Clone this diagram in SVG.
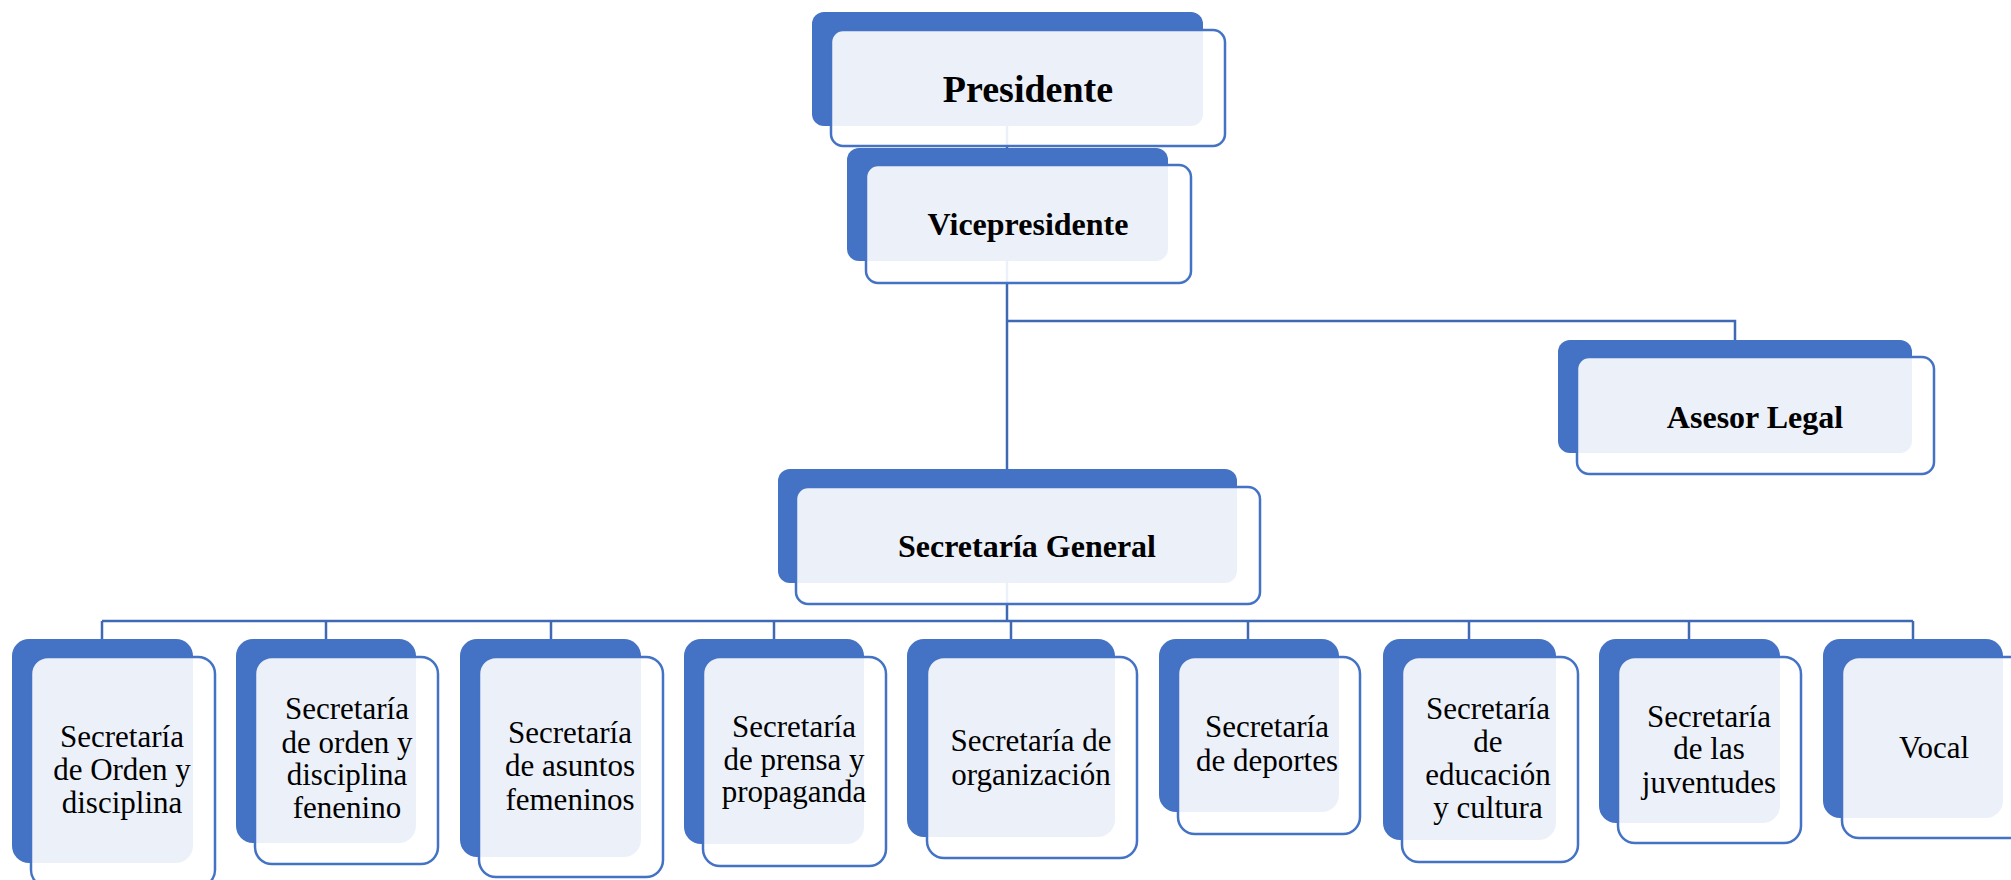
<svg xmlns="http://www.w3.org/2000/svg" width="2011" height="880" viewBox="0 0 2011 880">
<style>
.back{fill:#4472C4;}
.front{fill:#FFFFFF;fill-opacity:0.9;stroke:#4472C4;stroke-width:2.5;}
.conn{fill:none;stroke:#3F69B5;stroke-width:2.5;}
.tb{font-family:"Liberation Serif","Times New Roman",serif;font-weight:bold;fill:#000;text-anchor:middle;}
.tr{font-family:"Liberation Serif","Times New Roman",serif;font-size:31px;fill:#000;text-anchor:middle;}
</style>
<rect width="2011" height="880" fill="#FFFFFF"/>
<g id="connectors">
<path class="conn" d="M1007 126 V148"/>
<path class="conn" d="M1007 261 V469"/>
<path class="conn" d="M1007 321 H1735 V340"/>
<path class="conn" d="M1007 583 V621"/>
<path class="conn" d="M102 621 H1913"/>
<path class="conn" d="M102 621 V639 M326 621 V639 M551 621 V639 M774 621 V639 M1011 621 V639 M1248 621 V639 M1469 621 V639 M1689 621 V639 M1913 621 V639"/>
</g>
<g id="presidente">
<rect class="back" x="812" y="12" width="391" height="114" rx="12"/>
<rect class="front" x="831" y="30" width="394" height="116" rx="12"/>
<text class="tb" x="1028" y="102" font-size="38">Presidente</text>
</g>
<g id="vicepresidente">
<rect class="back" x="847" y="148" width="321" height="113" rx="12"/>
<rect class="front" x="866" y="165" width="325" height="118" rx="12"/>
<text class="tb" x="1028" y="235" font-size="32">Vicepresidente</text>
</g>
<g id="asesor">
<rect class="back" x="1558" y="340" width="354" height="113" rx="12"/>
<rect class="front" x="1577" y="357" width="357" height="117" rx="12"/>
<text class="tb" x="1755" y="428" font-size="32">Asesor Legal</text>
</g>
<g id="secgeneral">
<rect class="back" x="778" y="469" width="459" height="114" rx="12"/>
<rect class="front" x="796" y="487" width="464" height="117" rx="12"/>
<text class="tb" x="1027" y="557" font-size="32">Secretaría General</text>
</g>
<g id="s1">
<rect class="back" x="12" y="639" width="181" height="224" rx="17"/>
<rect class="front" x="31" y="657" width="184" height="230" rx="17"/>
<text class="tr" x="122"><tspan x="122" y="747">Secretaría</tspan><tspan x="122" y="780">de Orden y</tspan><tspan x="122" y="813">disciplina</tspan></text>
</g>
<g id="s2">
<rect class="back" x="236" y="639" width="180" height="204" rx="17"/>
<rect class="front" x="255" y="657" width="183" height="207" rx="17"/>
<text class="tr" x="347"><tspan x="347" y="719">Secretaría</tspan><tspan x="347" y="753">de orden y</tspan><tspan x="347" y="785">disciplina</tspan><tspan x="347" y="818">fenenino</tspan></text>
</g>
<g id="s3">
<rect class="back" x="460" y="639" width="181" height="218" rx="17"/>
<rect class="front" x="479" y="657" width="184" height="220" rx="17"/>
<text class="tr" x="570"><tspan x="570" y="743">Secretaría</tspan><tspan x="570" y="776">de asuntos</tspan><tspan x="570" y="810">femeninos</tspan></text>
</g>
<g id="s4">
<rect class="back" x="684" y="639" width="180" height="205" rx="17"/>
<rect class="front" x="703" y="657" width="183" height="209" rx="17"/>
<text class="tr" x="794"><tspan x="794" y="737">Secretaría</tspan><tspan x="794" y="770">de prensa y</tspan><tspan x="794" y="802">propaganda</tspan></text>
</g>
<g id="s5">
<rect class="back" x="907" y="639" width="208" height="198" rx="17"/>
<rect class="front" x="927" y="657" width="210" height="201" rx="17"/>
<text class="tr" x="1031"><tspan x="1031" y="751">Secretaría de</tspan><tspan x="1031" y="785">organización</tspan></text>
</g>
<g id="s6">
<rect class="back" x="1159" y="639" width="180" height="173" rx="17"/>
<rect class="front" x="1178" y="657" width="182" height="177" rx="17"/>
<text class="tr" x="1267"><tspan x="1267" y="737">Secretaría</tspan><tspan x="1267" y="771">de deportes</tspan></text>
</g>
<g id="s7">
<rect class="back" x="1383" y="639" width="173" height="201" rx="17"/>
<rect class="front" x="1402" y="657" width="176" height="205" rx="17"/>
<text class="tr" x="1488"><tspan x="1488" y="719">Secretaría</tspan><tspan x="1488" y="752">de</tspan><tspan x="1488" y="785">educación</tspan><tspan x="1488" y="818">y cultura</tspan></text>
</g>
<g id="s8">
<rect class="back" x="1599" y="639" width="181" height="184" rx="17"/>
<rect class="front" x="1618" y="657" width="183" height="186" rx="17"/>
<text class="tr" x="1709"><tspan x="1709" y="727">Secretaría</tspan><tspan x="1709" y="759">de las</tspan><tspan x="1709" y="793">juventudes</tspan></text>
</g>
<g id="s9">
<rect class="back" x="1823" y="639" width="180" height="179" rx="17"/>
<rect class="front" x="1842" y="657" width="184" height="181" rx="17"/>
<text class="tr" x="1934" y="758">Vocal</text>
</g>
</svg>
